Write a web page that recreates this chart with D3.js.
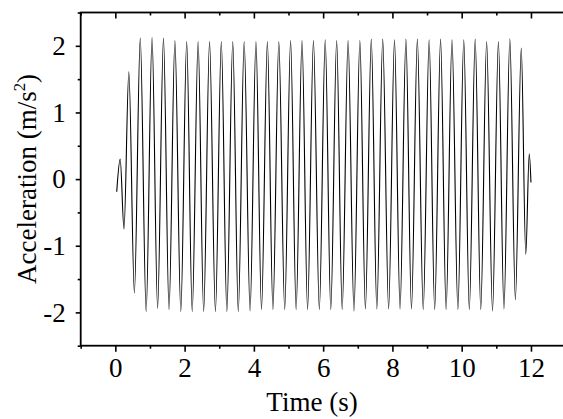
<!DOCTYPE html>
<html>
<head>
<meta charset="utf-8">
<script src="https://cdn.jsdelivr.net/npm/d3@7/dist/d3.min.js"></script>
<style>
  html, body { margin: 0; padding: 0; background: #fff; }
  svg { display: block; }
  svg text { font-family: "Times New Roman", "Liberation Serif", Tinos, serif !important; fill: #000; }
</style>
</head>
<body>
<svg id="chart" width="563" height="419"></svg>
<script>
// Extrema of the acceleration record (time in s, acceleration in m/s^2)
const startTimes = [0.04, 0.14, 0.25, 0.39, 0.55];
const startValues = [-0.19, 0.30, -0.75, 1.61, -1.71];

const peakTimes = [0.72, 1.06, 1.39, 1.72, 2.06, 2.39, 2.72, 3.06, 3.39, 3.72, 4.06, 4.39,
  4.72, 5.06, 5.39, 5.72, 6.06, 6.39, 6.72, 7.06, 7.39, 7.72, 8.06, 8.39, 8.72, 9.06,
  9.39, 9.72, 10.06, 10.39, 10.72, 11.06, 11.39, 11.72];
const peakValues = [2.115, 2.125, 2.115, 2.08, 2.065, 2.065, 2.065, 2.065, 2.065, 2.065,
  2.065, 2.065, 2.065, 2.08, 2.08, 2.08, 2.09, 2.08, 2.08, 2.08, 2.10, 2.10, 2.09, 2.10,
  2.10, 2.09, 2.10, 2.09, 2.09, 2.10, 2.065, 2.065, 2.105, 1.965];

const troughTimes = [0.89, 1.22, 1.55, 1.89, 2.22, 2.55, 2.89, 3.22, 3.55, 3.89, 4.22, 4.55,
  4.89, 5.22, 5.55, 5.89, 6.22, 6.55, 6.89, 7.22, 7.55, 7.89, 8.22, 8.55, 8.89, 9.22,
  9.55, 9.89, 10.22, 10.55, 10.89, 11.22, 11.55, 11.85];
const troughValues = [-1.99, -1.94, -1.96, -1.99, -1.99, -1.99, -1.99, -1.99, -1.99, -1.98,
  -1.96, -1.96, -1.96, -1.96, -1.96, -1.96, -1.96, -1.96, -1.98, -1.95, -1.95, -1.95,
  -1.95, -1.95, -1.96, -1.96, -1.96, -1.96, -1.96, -1.96, -1.98, -1.95, -1.81, -1.13];

const endTimes = [11.95, 12.0];
const endValues = [0.38, -0.05];

const xTicks = [0, 2, 4, 6, 8, 10, 12];
const xMinorTicks = [-1, 1, 3, 5, 7, 9, 11, 13];
const yTicks = [-2, -1, 0, 1, 2];
const yMinorTicks = [-2.5, -1.5, -0.5, 0.5, 1.5, 2.5];

// Assemble points
const pts = [];
startTimes.forEach((t, i) => pts.push([t, startValues[i]]));
peakTimes.forEach((t, i) => pts.push([t, peakValues[i]]));
troughTimes.forEach((t, i) => pts.push([t, troughValues[i]]));
endTimes.forEach((t, i) => pts.push([t, endValues[i]]));
pts.sort((a, b) => a[0] - b[0]);

const svg = d3.select("#chart");
const mLeft = 80.7, mRight = 565.6, mTop = 12.5, mBottom = 345.7;

const x = d3.scaleLinear().domain([-1, 13]).range([mLeft, mRight]);
const y = d3.scaleLinear().domain([-2.5, 2.5]).range([mBottom, mTop]);

// data line
const line = d3.line().x(d => x(d[0])).y(d => y(d[1])).curve(d3.curveMonotoneX);
svg.append("path").datum(pts)
  .attr("d", line)
  .attr("fill", "none")
  .attr("stroke", "#000")
  .attr("stroke-width", 1.1);

const fs = 27;
function styleAxis(g) {
  g.selectAll(".domain").remove();
  g.selectAll("line").attr("stroke", "#000").attr("stroke-width", 1.6);
}

// bottom axis major
const gb = svg.append("g").attr("transform", `translate(0,${mBottom})`)
  .call(d3.axisBottom(x).tickValues(xTicks).tickSize(6).tickPadding(6).tickFormat(d3.format("d")));
styleAxis(gb);
gb.selectAll("text").attr("font-size", fs);
const gbm = svg.append("g").attr("transform", `translate(0,${mBottom})`)
  .call(d3.axisBottom(x).tickValues(xMinorTicks).tickSize(3).tickFormat(""));
styleAxis(gbm);

// top axis (ticks inward)
const gt = svg.append("g").attr("transform", `translate(0,${mTop})`)
  .call(d3.axisBottom(x).tickValues(xTicks).tickSize(6).tickFormat(""));
styleAxis(gt);
const gtm = svg.append("g").attr("transform", `translate(0,${mTop})`)
  .call(d3.axisBottom(x).tickValues(xMinorTicks).tickSize(3).tickFormat(""));
styleAxis(gtm);

// left axis
const gl = svg.append("g").attr("transform", `translate(${mLeft},0)`)
  .call(d3.axisLeft(y).tickValues(yTicks).tickSize(5).tickPadding(10).tickFormat(d3.format("d")));
styleAxis(gl);
gl.selectAll("text").attr("font-size", fs).text(d => d < 0 ? "-" + Math.abs(d) : d);
const glm = svg.append("g").attr("transform", `translate(${mLeft},0)`)
  .call(d3.axisLeft(y).tickValues(yMinorTicks).tickSize(3).tickFormat(""));
styleAxis(glm);

// frame
svg.append("rect")
  .attr("x", mLeft).attr("y", mTop)
  .attr("width", mRight - mLeft).attr("height", mBottom - mTop)
  .attr("fill", "none").attr("stroke", "#000").attr("stroke-width", 1.8);

// axis titles
svg.append("text")
  .attr("x", 312).attr("y", 411)
  .attr("text-anchor", "middle").attr("font-size", fs)
  .text("Time (s)");

const yl = svg.append("text")
  .attr("transform", `translate(36,284) rotate(-90)`)
  .attr("text-anchor", "start").attr("font-size", fs);
yl.append("tspan").text("Acceleration (m/s");
yl.append("tspan").attr("font-size", fs * 0.62).attr("dy", -11).text("2");
yl.append("tspan").attr("dy", 11).text(")");
</script>
</body>
</html>
